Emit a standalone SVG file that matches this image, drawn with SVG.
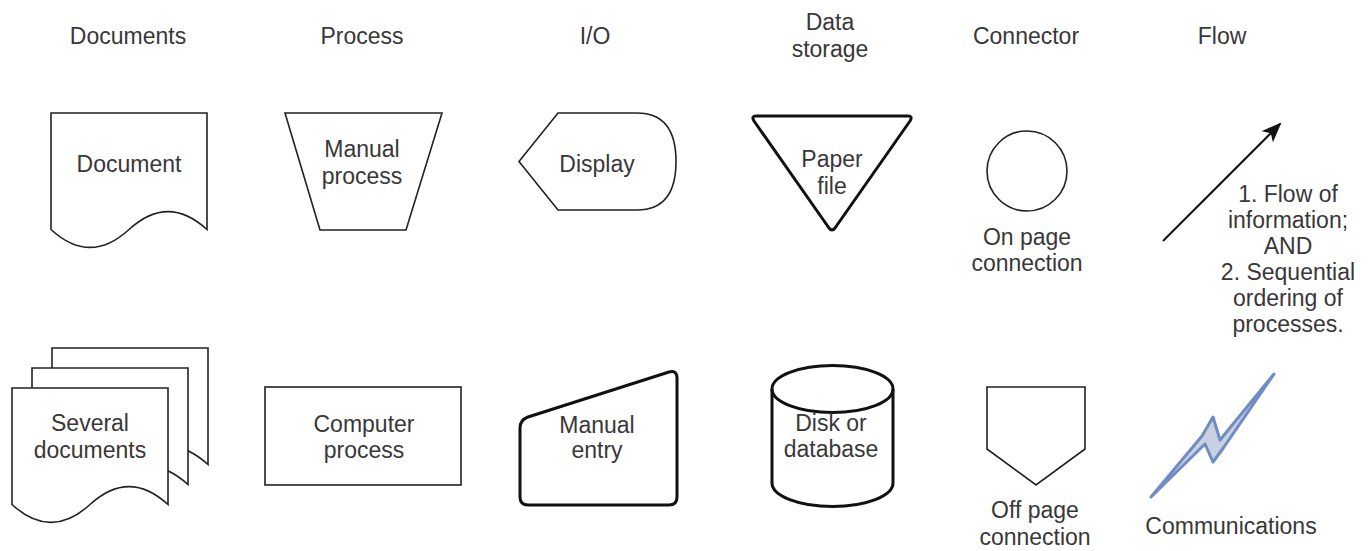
<svg xmlns="http://www.w3.org/2000/svg" width="1369" height="551" viewBox="0 0 1369 551">
<defs>
<style>
text{font-family:"Liberation Sans",Arial,sans-serif;font-size:23px;fill:#383838;text-anchor:middle}
.s{fill:#fff;stroke:#222;stroke-width:1.6}
.t{fill:#fff;stroke:#111;stroke-width:3;stroke-linejoin:round}
</style>
<marker id="ah" viewBox="0 0 20 16" refX="18" refY="8" markerWidth="20" markerHeight="16" markerUnits="userSpaceOnUse" orient="auto">
<path d="M0,0 L20,8 L0,16 L5,8 Z" fill="#111"/>
</marker>
</defs>
<rect width="1369" height="551" fill="#fff"/>
<g id="headers">
<text x="128" y="44">Documents</text>
<text x="362" y="44">Process</text>
<text x="595" y="44">I/O</text>
<text x="830" y="30">Data</text>
<text x="830" y="57">storage</text>
<text x="1026" y="44">Connector</text>
<text x="1222" y="44">Flow</text>
</g>
<g id="document">
<path class="s" d="M51,113 H207 V229.5 Q168,193.6 129,229.5 Q90,265.4 51,229.5 Z"/>
<text x="129" y="172">Document</text>
</g>
<g id="several-documents">
<path class="s" d="M52,348 H208 V464.5 Q169,428.6 130,464.5 Q91,500.4 52,464.5 Z"/>
<path class="s" d="M32,368 H188 V484.5 Q149,448.6 110,484.5 Q71,520.4 32,484.5 Z"/>
<path class="s" d="M12,388 H168 V504.5 Q129,468.6 90,504.5 Q51,540.4 12,504.5 Z"/>
<text x="90" y="431">Several</text>
<text x="90" y="458">documents</text>
</g>
<g id="manual-process">
<path class="s" d="M285,113 H442 L406,230 H320 Z"/>
<text x="362" y="157">Manual</text>
<text x="362" y="184">process</text>
</g>
<g id="computer-process">
<rect class="s" x="265" y="387" width="196" height="98"/>
<text x="364" y="432">Computer</text>
<text x="364" y="458">process</text>
</g>
<g id="display">
<path class="s" d="M519,161.5 L558,113 H637 Q676,113 676,161.5 Q676,210 637,210 H558 Z"/>
<text x="597" y="172">Display</text>
</g>
<g id="manual-entry">
<path class="t" d="M520,428 Q520,420 528,417 L669,372 Q677,370 677,378 V497 Q677,505 669,505 H528 Q520,505 520,497 Z"/>
<text x="597" y="433">Manual</text>
<text x="597" y="458">entry</text>
</g>
<g id="paper-file">
<path class="t" d="M756,116 H908 Q913,116 910,121 L835,228 Q832,232 829,228 L754,121 Q751,116 756,116 Z"/>
<text x="832" y="167">Paper</text>
<text x="832" y="194">file</text>
</g>
<g id="disk">
<path class="t" d="M772,389 V483 A60.5,23.5 0 0 0 893,483 V389 A60.5,23.5 0 0 0 772,389 Z"/>
<path d="M772,389 A60.5,23.5 0 0 0 893,389" fill="none" stroke="#111" stroke-width="3"/>
<text x="831" y="431">Disk or</text>
<text x="831" y="457">database</text>
</g>
<g id="on-page-connector">
<circle class="s" cx="1027" cy="171" r="40"/>
<text x="1027" y="245">On page</text>
<text x="1027" y="271">connection</text>
</g>
<g id="off-page-connector">
<path class="s" d="M987,387 H1085 V449 L1036,485 L987,449 Z"/>
<text x="1035" y="518">Off page</text>
<text x="1035" y="545">connection</text>
</g>
<g id="connectors">
<line x1="1163" y1="241" x2="1280" y2="124" stroke="#111" stroke-width="2" marker-end="url(#ah)"/>
</g>
<g id="flow-label">
<text x="1288" y="202">1. Flow of</text>
<text x="1288" y="228">information;</text>
<text x="1288" y="254">AND</text>
<text x="1288" y="280">2. Sequential</text>
<text x="1288" y="306">ordering of</text>
<text x="1288" y="332">processes.</text>
</g>
<g id="communications">
<path d="M1151,497 L1202,436 L1213,417 L1220,440 L1274,374 L1224,447 L1213,462 L1205,444 Z" fill="#c9d0e0" stroke="#6f8cc4" stroke-width="3" stroke-linejoin="round"/>
<text x="1231" y="534">Communications</text>
</g>
</svg>
